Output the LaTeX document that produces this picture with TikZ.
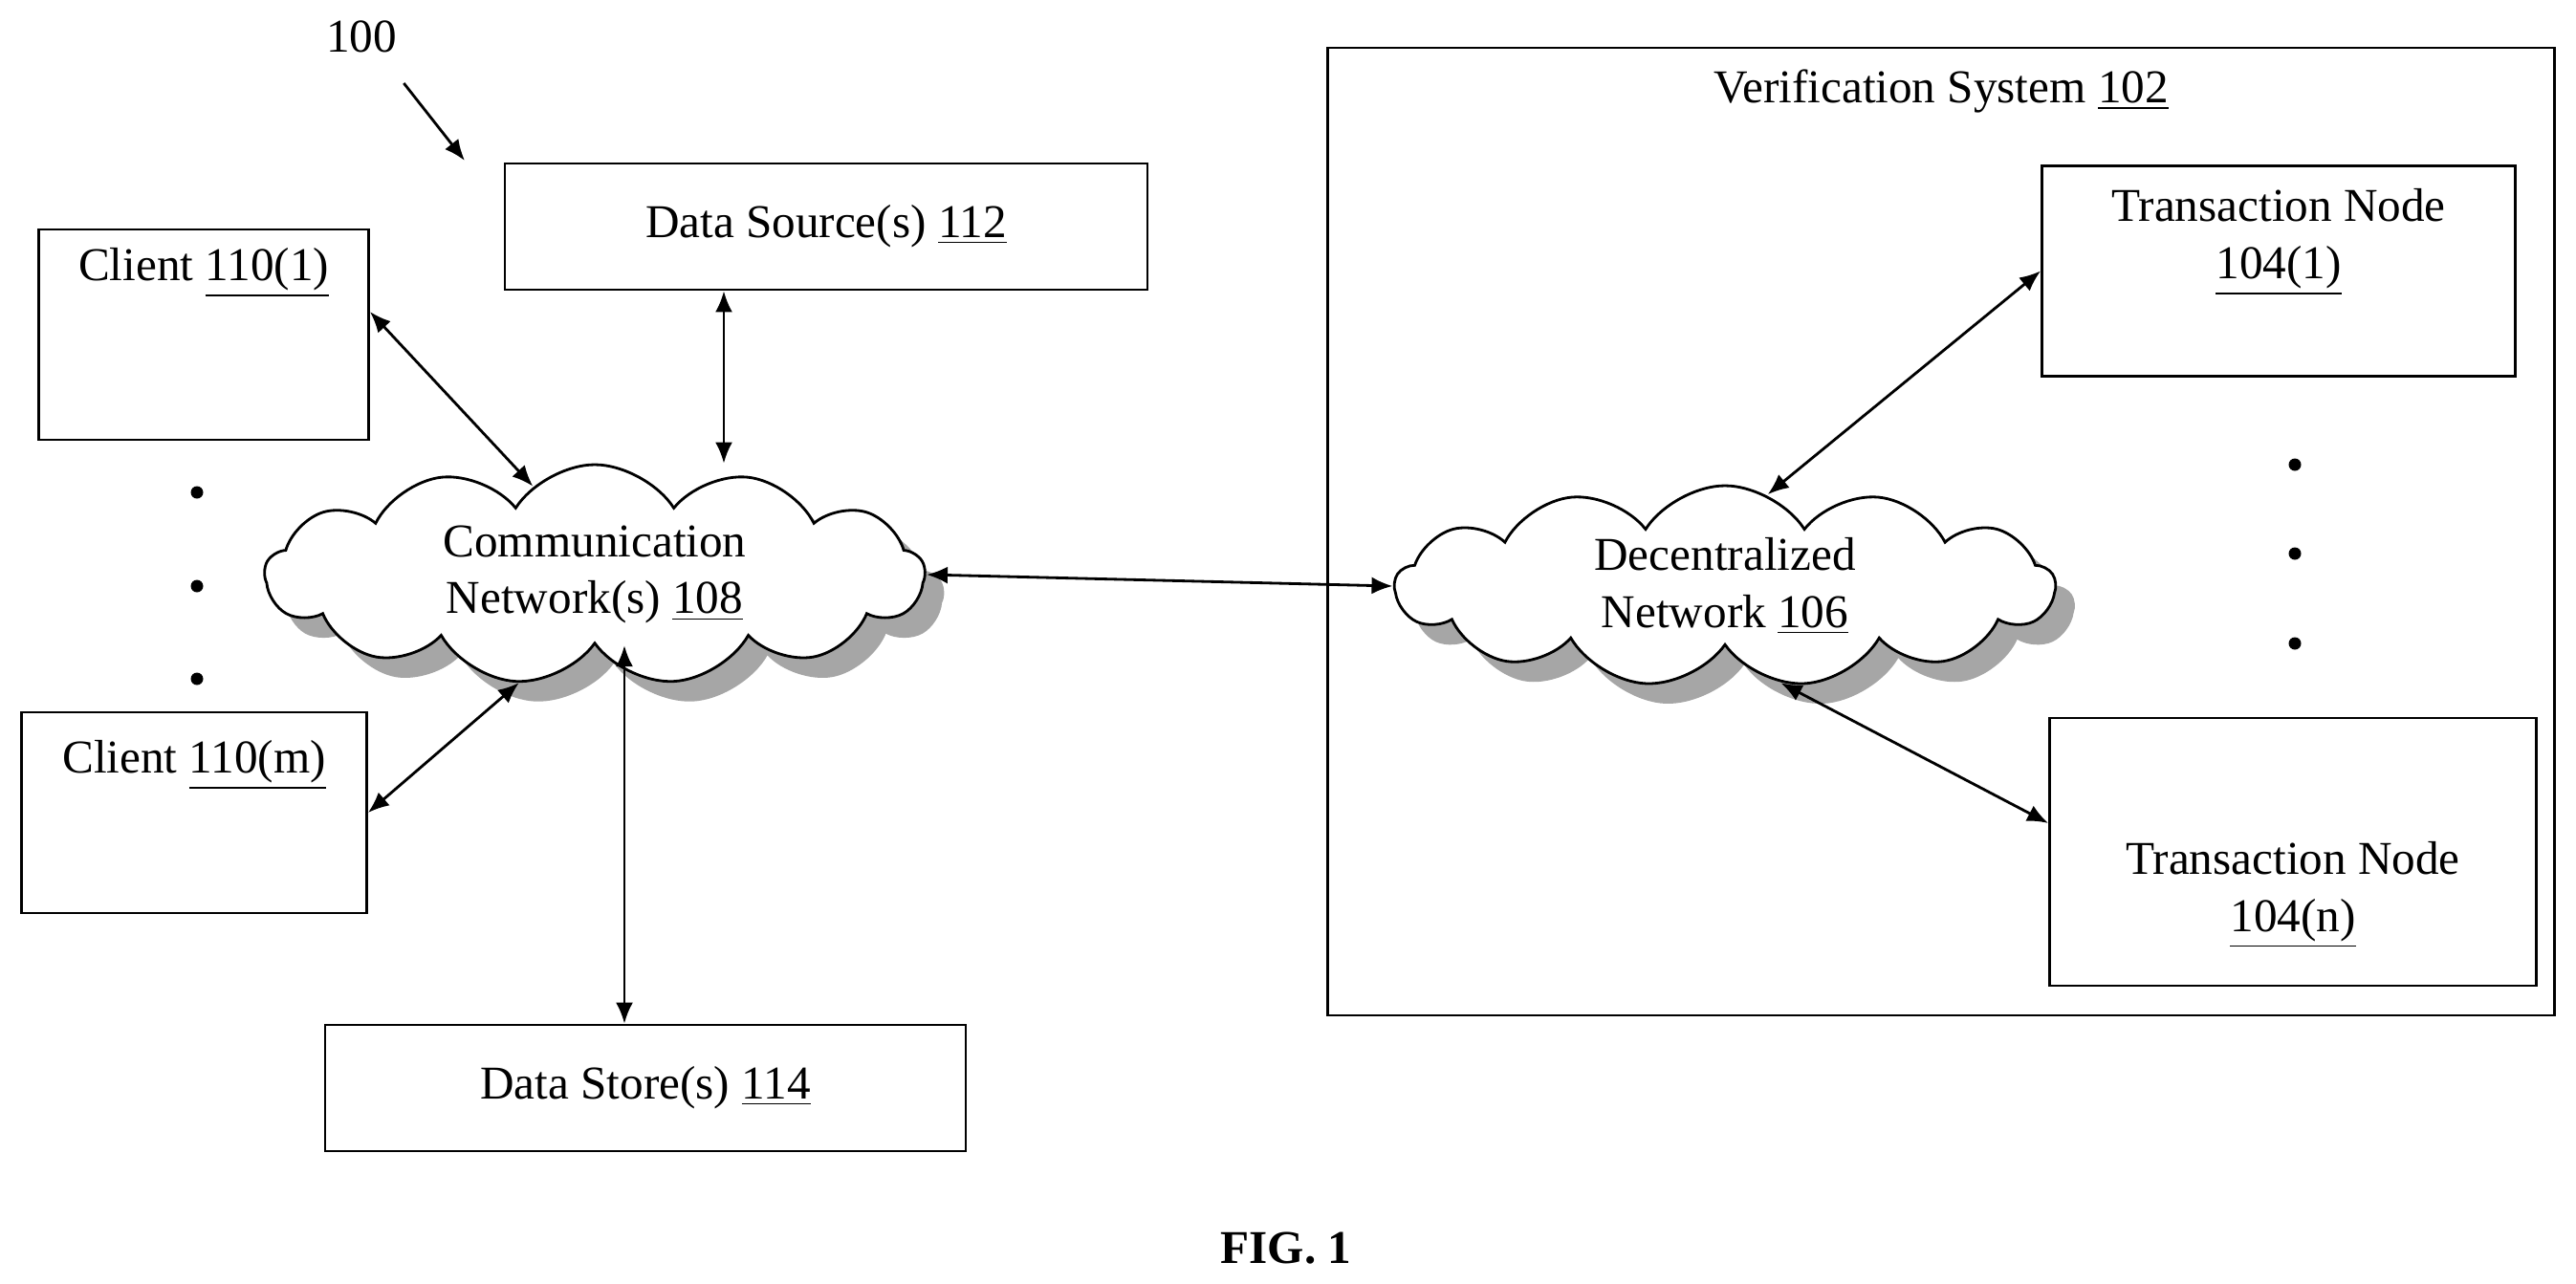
\documentclass[tikz,border=0pt]{standalone}
\usepackage{fontspec}
\setmainfont{Liberation Serif}
\usetikzlibrary{positioning,arrows.meta,shapes.symbols,calc}

\tikzset{
  box/.style={rectangle,draw=black,thick,fill=white,align=center},
  cloudy/.style={cloud,cloud puffs=13,cloud puff arc=115,cloud ignores aspect,draw=black,thick,fill=white,align=center,inner sep=0pt},
  cloudshade/.style={cloud,cloud puffs=13,cloud puff arc=115,cloud ignores aspect,fill=gray!70,inner sep=0pt},
  link/.style={thick,{Latex[length=2.2mm,width=1.8mm]}-{Latex[length=2.2mm,width=1.8mm]}},
  dot/.style={circle,fill=black,inner sep=0pt,minimum size=1.3mm}
}

\begin{document}
\begin{tikzpicture}[font=\fontsize{14}{17}\selectfont]

  \useasboundingbox (0,0) rectangle (26.94,-13.42);

  %% left side
  \node (ref) at (3.78,-0.38) {100};
  \coordinate (refend) at (4.86,-1.68);
  \draw[thick,-{Latex[length=2.2mm,width=1.8mm]}] (ref.south east) ++(-0.05,-0.2) coordinate (refstart) -- (refend);

  \node (dsrc) [box,minimum width=6.72cm,minimum height=1.32cm] at (8.64,-2.37) {Data Source(s) \underline{112}};
  \node (cl1) [box,minimum width=3.45cm,minimum height=2.20cm] at (2.13,-3.50) {};
  \node (cl1txt) [anchor=north,inner sep=0pt] at ([yshift=-0.2cm]cl1.north) {Client \underline{110(1)}};
  \node (clm) [box,minimum width=3.61cm,minimum height=2.10cm] at (2.03,-8.50) {};
  \node (clmtxt) [anchor=north,inner sep=0pt] at ([yshift=-0.3cm]clm.north) {Client \underline{110(m)}};
  \foreach \y [count=\k] in {-5.15,-6.13,-7.10}
    \node (ldot\k) [dot] at (2.06,\y) {};

  \node (commsh) [cloudshade,minimum width=6.9cm,minimum height=2.3cm] at (6.42,-6.22) {};
  \node (comm) [cloudy,minimum width=6.9cm,minimum height=2.3cm] at (6.22,-6.01) {Communication\\Network(s) \underline{108}};

  \node (dstore) [box,minimum width=6.70cm,minimum height=1.32cm] at (6.75,-11.38) {Data Store(s) \underline{114}};

  %% verification system
  \node (vsys) [box,fill=none,minimum width=12.83cm,minimum height=10.12cm] at (20.30,-5.56) {};
  \node (vtitle) [below=0.12cm of vsys.north] {Verification System \underline{102}};
  \node (tn1) [box,minimum width=4.95cm,minimum height=2.20cm,anchor=north,inner sep=2pt] at (23.83,-1.72) {};
  \node (tn1txt) [anchor=north,align=center,inner sep=0pt] at ([yshift=-0.25cm]tn1.north) {Transaction Node\\\underline{104(1)}};
  \node (tnn) [box,minimum width=5.09cm,minimum height=2.80cm] at (23.98,-8.91) {};
  \node (tnntxt) [anchor=south,align=center,inner sep=0pt] at ([yshift=0.4cm]tnn.south) {Transaction Node\\\underline{104(n)}};
  \foreach \y [count=\k] in {-4.86,-5.79,-6.73}
    \node (rdot\k) [dot] at (24.00,\y) {};

  \node (decsh) [cloudshade,minimum width=6.9cm,minimum height=2.1cm] at (18.24,-6.34) {};
  \node (dec) [cloudy,minimum width=6.9cm,minimum height=2.1cm] at (18.04,-6.13) {Decentralized\\Network \underline{106}};

  %% connectors
  \coordinate (dsx) at ([xshift=-1.07cm]dsrc.south);
  \coordinate (dstx) at ([xshift=-0.22cm]dstore.north);
  \draw[link] ([yshift=0.24cm]cl1.east) -- (comm.125);
  \draw[link] (clm.east) -- (comm.235);
  \draw[link] (dsx) -- (dsx |- comm.north);
  \draw[link] (dstx) -- (dstx |- comm.south);
  \draw[link] (comm.east) -- (dec.west);
  \draw[link] (dec.65) -- (tn1.west);
  \draw[link] (dec.300) -- ([yshift=0.3cm]tnn.west);

  \node (fig) [font=\fontsize{14}{17}\selectfont\bfseries] at (13.45,-13.06) {FIG. 1};

\end{tikzpicture}
\end{document}
